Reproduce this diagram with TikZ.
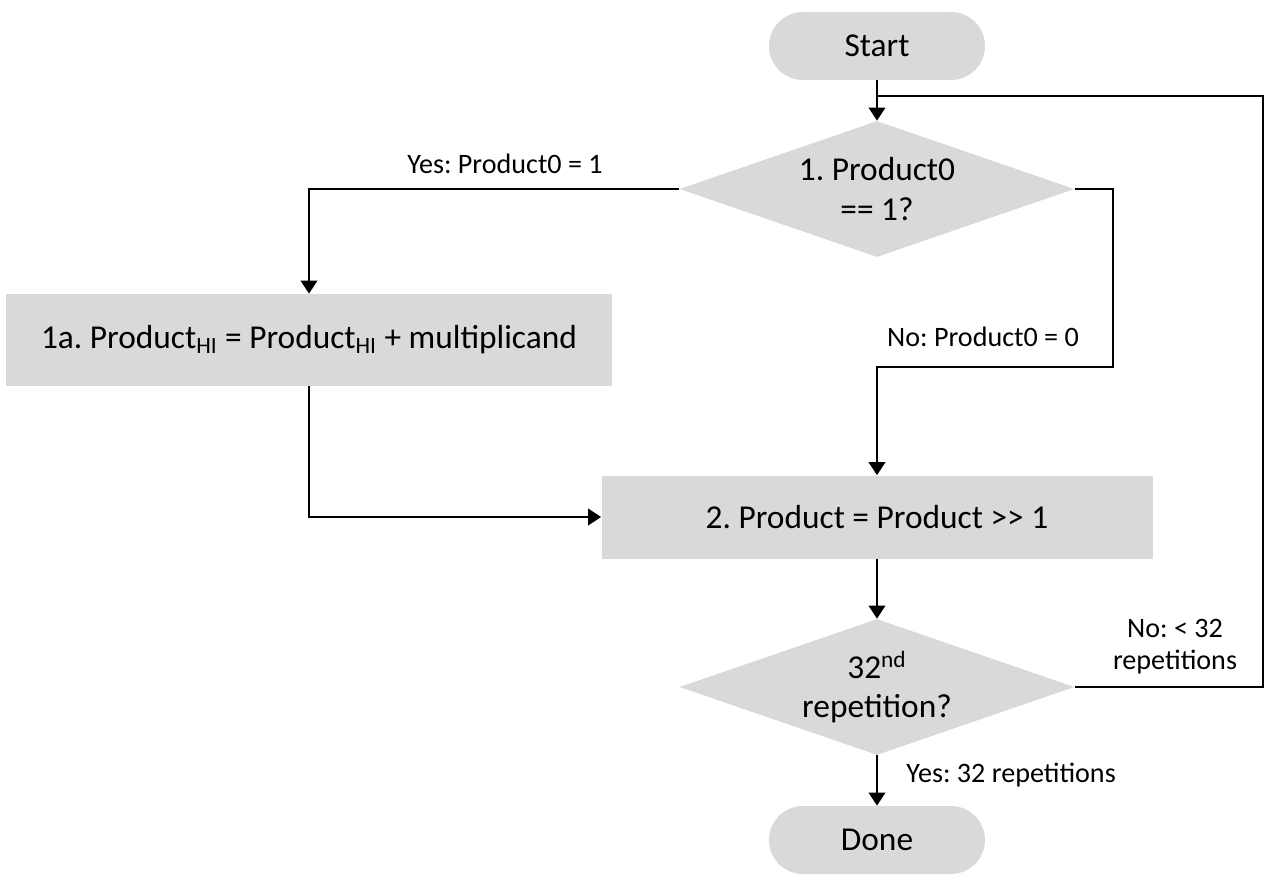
\documentclass[tikz,border=0pt]{standalone}
\usepackage{fontspec}
\setmainfont{Carlito}
\frenchspacing
\usetikzlibrary{shapes.geometric, arrows.meta}
\definecolor{boxgray}{HTML}{D9D9D9}

\begin{document}
\begin{tikzpicture}[
    node distance=2.86cm,
    term/.style={rectangle, rounded corners=0.68cm, fill=boxgray, minimum width=4.32cm, minimum height=1.36cm, font=\fontsize{19}{22.5}\selectfont},
    decision/.style={diamond, aspect=2.9, inner sep=1pt, minimum width=7.9cm, minimum height=2.72cm, fill=boxgray, align=center, font=\fontsize{19}{22.5}\selectfont},
    process/.style={rectangle, fill=boxgray, font=\fontsize{19}{22.5}\selectfont},
    line/.style={draw=black, line width=1.1pt},
    arr/.style={line, -{Triangle[width=0.33cm,length=0.26cm]}},
    lbl/.style={font=\fontsize{16}{18.2}\selectfont, align=center, inner sep=0pt}
  ]
    \useasboundingbox (0,0) rectangle (25.6,-17.64);

    \node [term] (start) at (17.54,-0.92) {Start};
    \node [decision, below of = start] (d1) {1. Product0\\== 1?};
    \node [process, minimum width=12.1cm, minimum height=1.84cm] (p1a) at (6.18,-6.8) {1a. Product\textsubscript{HI} = Product\textsubscript{HI} + multiplicand};
    \node [process, below of = d1, node distance=6.56cm, minimum width=11.02cm, minimum height=1.66cm] (p2) {2. Product = Product >{}> 1};
    \node [decision, below of = p2, node distance=3.4cm] (d2) {32\textsuperscript{nd}\\repetition?};
    \node [term, below of = d2, node distance=3.06cm] (done) {Done};

    \coordinate (back) at (25.26,-1.92);
    \coordinate (nobend) at (22.26,-7.34);

    \draw [arr] (start) -- (d1);
    \draw [arr] (d1.west) -| (p1a.north);
    \draw [arr] (d1.east) -| (nobend) -| (p2.north);
    \draw [arr] (p1a.south) |- (p2.west);
    \draw [arr] (p2) -- (d2);
    \draw [arr] (d2) -- (done);
    \draw [line] (d2.east) -| (back) -- (back -| d1.north);

    \node [lbl, anchor=base] (yes1) at (10.1,-3.46) {Yes: Product0 = 1};
    \node [lbl, anchor=base] (no1) at (19.66,-6.92) {No: Product0 = 0};
    \node [lbl] (no2) at (23.5,-12.94) {No: < 32\\repetitions};
    \node [lbl, anchor=base west] (yes2) at (18.12,-15.64) {Yes: 32 repetitions};
\end{tikzpicture}
\end{document}
